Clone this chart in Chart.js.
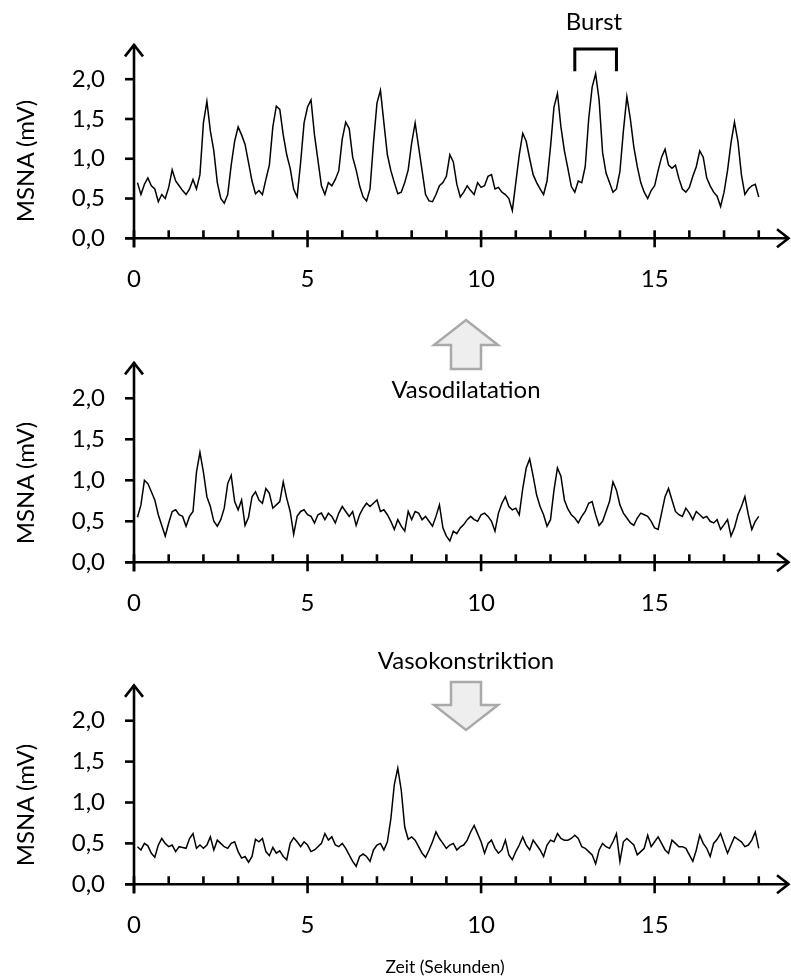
<!DOCTYPE html>
<html>
<head>
<meta charset="utf-8">
<script src="https://cdn.jsdelivr.net/npm/chart.js@4.4.1/dist/chart.umd.min.js"></script>
<style>
html,body{margin:0;padding:0;background:#fff;width:791px;height:980px;overflow:hidden;font-family:Lato,"Open Sans",sans-serif;}
.wrap{position:absolute;left:0;width:791px;}
.lbl{position:absolute;font-size:24px;color:#000;white-space:nowrap;transform:translate(-50%,-50%);line-height:1;}
.rot{transform:translate(-50%,-50%) rotate(-90deg);}
svg{position:absolute;left:0;top:0;}
</style>
</head>
<body>
<div class="wrap" style="top:0;height:300px"><canvas id="c1"></canvas></div>
<div class="wrap" style="top:300px;height:320px"><canvas id="c2"></canvas></div>
<div class="wrap" style="top:620px;height:360px"><canvas id="c3"></canvas></div>

<svg width="791" height="980" viewBox="0 0 791 980">
  <polygon points="466,320 498,345 481,345 481,369 451,369 451,345 434,345" fill="#eeeeee" stroke="#a9a9a9" stroke-width="2.5" stroke-linejoin="miter"/>
  <polygon points="451,682 481,682 481,705 498,705 466,730 434,705 451,705" fill="#eeeeee" stroke="#a9a9a9" stroke-width="2.5" stroke-linejoin="miter"/>
</svg>

<div class="lbl rot" style="left:25px;top:161px">MSNA (mV)</div>
<div class="lbl rot" style="left:25px;top:483px">MSNA (mV)</div>
<div class="lbl rot" style="left:25px;top:805px">MSNA (mV)</div>
<div class="lbl" style="left:594px;top:21px">Burst</div>
<div class="lbl" style="left:466px;top:389px">Vasodilatation</div>
<div class="lbl" style="left:466px;top:660px">Vasokonstriktion</div>
<div class="lbl" style="left:445px;top:967px;font-size:17.5px">Zeit (Sekunden)</div>

<script>
// ---- sampling grid (seconds) ----
const timeStart = 0.1;
const timeStep = 0.1;

// ---- tick definitions ----
const yTickValues = [0, 0.5, 1.0, 1.5, 2.0];
const xLabelTicks = [0, 5, 10, 15];
const xMinorTicks = [1, 2, 3, 4, 6, 7, 8, 9, 11, 12, 13, 14, 16, 17, 18];

// ---- burst bracket (time span in s, level in mV) ----
const burstSpan = [12.7, 13.9];
const burstLevels = [2.10, 2.38];

// ---- MSNA trace, resting (mV), one value per 0.1 s from 0.1 s to 18.0 s ----
const restValues = [
  0.70,0.55,0.68,0.76,0.66,0.62,0.46,0.55,0.50,0.64,
  0.86,0.72,0.66,0.60,0.55,0.62,0.74,0.62,0.80,1.45,
  1.72,1.35,1.10,0.70,0.50,0.44,0.55,0.92,1.22,1.40,
  1.30,1.18,0.95,0.72,0.56,0.60,0.55,0.74,0.92,1.40,
  1.66,1.62,1.30,1.05,0.88,0.62,0.52,0.95,1.45,1.65,
  1.74,1.30,0.98,0.66,0.55,0.70,0.66,0.74,0.85,1.25,
  1.46,1.38,1.02,0.86,0.66,0.52,0.47,0.62,1.20,1.70,
  1.86,1.45,1.05,0.85,0.70,0.56,0.58,0.70,0.86,1.20,
  1.45,1.15,0.85,0.55,0.47,0.46,0.55,0.66,0.70,0.78,
  1.05,0.96,0.68,0.52,0.58,0.66,0.60,0.55,0.70,0.64,
  0.66,0.78,0.80,0.62,0.64,0.58,0.55,0.50,0.35,0.70,
  1.05,1.32,1.22,1.00,0.80,0.70,0.62,0.55,0.72,1.15,
  1.65,1.82,1.40,1.10,0.88,0.65,0.58,0.72,0.70,0.90,
  1.50,1.90,2.07,1.74,1.08,0.82,0.70,0.58,0.62,0.84,
  1.35,1.78,1.50,1.15,0.90,0.70,0.58,0.50,0.60,0.66,
  0.85,1.02,1.12,0.92,0.88,0.92,0.75,0.62,0.58,0.64,
  0.78,0.90,1.10,1.02,0.76,0.66,0.58,0.53,0.40,0.58,
  0.85,1.20,1.46,1.22,0.80,0.55,0.62,0.66,0.68,0.52
];

// ---- MSNA trace during vasodilatation (mV) ----
const dilationValues = [
  0.55,0.70,1.00,0.96,0.86,0.76,0.58,0.45,0.32,0.48,
  0.62,0.64,0.58,0.56,0.44,0.56,0.62,1.10,1.34,1.10,
  0.80,0.68,0.50,0.44,0.52,0.66,0.96,1.06,0.74,0.64,
  0.76,0.45,0.55,0.80,0.86,0.76,0.72,0.90,0.84,0.66,
  0.70,0.74,0.98,0.78,0.62,0.34,0.56,0.62,0.64,0.58,
  0.56,0.48,0.58,0.60,0.52,0.60,0.56,0.48,0.60,0.68,
  0.62,0.56,0.62,0.45,0.58,0.66,0.72,0.68,0.72,0.76,
  0.62,0.64,0.58,0.50,0.40,0.52,0.44,0.38,0.62,0.52,
  0.62,0.60,0.52,0.56,0.50,0.44,0.56,0.70,0.42,0.32,
  0.26,0.38,0.35,0.42,0.46,0.52,0.56,0.52,0.50,0.58,
  0.60,0.56,0.50,0.38,0.60,0.72,0.80,0.68,0.64,0.66,
  0.58,0.90,1.15,1.26,1.05,0.82,0.68,0.58,0.44,0.52,
  0.88,1.15,1.05,0.76,0.65,0.58,0.54,0.48,0.56,0.62,
  0.72,0.74,0.58,0.45,0.50,0.62,0.74,0.98,0.88,0.70,
  0.60,0.54,0.48,0.45,0.54,0.60,0.58,0.56,0.50,0.42,
  0.40,0.60,0.80,0.90,0.76,0.62,0.58,0.56,0.66,0.60,
  0.52,0.62,0.58,0.54,0.56,0.50,0.48,0.52,0.40,0.46,
  0.52,0.32,0.42,0.58,0.68,0.80,0.58,0.40,0.50,0.56
];

// ---- MSNA trace during vasoconstriction (mV) ----
const constrictionValues = [
  0.46,0.42,0.50,0.47,0.38,0.33,0.48,0.56,0.50,0.46,
  0.48,0.40,0.46,0.45,0.44,0.56,0.62,0.44,0.48,0.44,
  0.48,0.58,0.42,0.54,0.50,0.46,0.44,0.50,0.52,0.40,
  0.32,0.34,0.27,0.34,0.55,0.52,0.56,0.40,0.35,0.45,
  0.38,0.41,0.34,0.30,0.50,0.57,0.52,0.46,0.52,0.48,
  0.40,0.42,0.46,0.50,0.62,0.54,0.58,0.48,0.46,0.50,
  0.44,0.36,0.28,0.22,0.34,0.37,0.34,0.28,0.42,0.48,
  0.50,0.42,0.52,0.80,1.22,1.42,1.15,0.70,0.55,0.58,
  0.54,0.46,0.38,0.33,0.42,0.52,0.64,0.56,0.50,0.44,
  0.48,0.50,0.42,0.46,0.48,0.54,0.64,0.72,0.62,0.52,
  0.38,0.50,0.54,0.44,0.38,0.42,0.54,0.36,0.30,0.40,
  0.48,0.58,0.48,0.42,0.54,0.48,0.42,0.34,0.48,0.54,
  0.52,0.62,0.56,0.54,0.54,0.56,0.60,0.56,0.46,0.44,
  0.40,0.36,0.25,0.42,0.50,0.46,0.44,0.52,0.62,0.28,
  0.52,0.56,0.52,0.48,0.36,0.40,0.44,0.60,0.46,0.52,
  0.58,0.50,0.42,0.38,0.54,0.50,0.46,0.46,0.44,0.36,
  0.28,0.42,0.60,0.50,0.44,0.34,0.50,0.55,0.62,0.50,
  0.38,0.48,0.58,0.55,0.52,0.46,0.48,0.54,0.64,0.44
];

const axisDeco = {
  id: 'axisDeco',
  afterDraw(chart, args, opts) {
    const {ctx, chartArea, scales} = chart;
    const xs = scales.x, ys = scales.y;
    const x0 = xs.getPixelForValue(0), y0 = ys.getPixelForValue(0);
    const line = (a, b, c, d) => { ctx.beginPath(); ctx.moveTo(a, b); ctx.lineTo(c, d); ctx.stroke(); };
    ctx.save();
    ctx.strokeStyle = '#000';
    ctx.lineWidth = 2.6;
    ctx.lineCap = 'butt';
    ctx.lineJoin = 'miter';
    // y axis + arrow
    line(x0, y0 + 9, x0, chartArea.top + 1);
    ctx.beginPath(); ctx.moveTo(x0 - 9, chartArea.top + 13); ctx.lineTo(x0, chartArea.top + 1.5); ctx.lineTo(x0 + 9, chartArea.top + 13); ctx.stroke();
    // x axis + arrow
    line(x0 - 9, y0, chartArea.right - 1, y0);
    ctx.beginPath(); ctx.moveTo(chartArea.right - 13, y0 - 9); ctx.lineTo(chartArea.right - 1.5, y0); ctx.lineTo(chartArea.right - 13, y0 + 9); ctx.stroke();
    // y ticks (outside)
    yTickValues.forEach(v => { const py = ys.getPixelForValue(v); line(x0 - 9, py, x0, py); });
    // x minor ticks (inside)
    xMinorTicks.forEach(v => { const px = xs.getPixelForValue(v); line(px, y0 - 8, px, y0); });
    // x major ticks (cross)
    xLabelTicks.forEach(v => { const px = xs.getPixelForValue(v); line(px, y0 - 8, px, y0 + 9); });
    // burst bracket
    if (opts && opts.bracket) {
      const xa = xs.getPixelForValue(burstSpan[0]), xb = xs.getPixelForValue(burstSpan[1]);
      const yl = ys.getPixelForValue(burstLevels[0]), yh = ys.getPixelForValue(burstLevels[1]);
      ctx.lineWidth = 3;
      ctx.beginPath(); ctx.moveTo(xa, yl); ctx.lineTo(xa, yh); ctx.lineTo(xb, yh); ctx.lineTo(xb, yl); ctx.stroke();
    }
    ctx.restore();
  }
};

const tickFont = { family: 'Lato, "Open Sans", sans-serif', size: 24 };

function makeChart(id, values, padTop, xAxisHeight, bracket) {
  const pts = values.map((v, i) => ({ x: Math.round((timeStart + i * timeStep) * 10) / 10, y: v }));
  return new Chart(document.getElementById(id), {
    type: 'line',
    data: { datasets: [{ data: pts, borderColor: '#000', borderWidth: 1.5, pointRadius: 0, tension: 0, fill: false }] },
    options: {
      responsive: true,
      maintainAspectRatio: false,
      animation: false,
      events: [],
      layout: { padding: { top: padTop, left: 0, right: 1, bottom: 0 } },
      plugins: { legend: { display: false }, tooltip: { enabled: false }, axisDeco: { bracket: bracket } },
      scales: {
        x: {
          type: 'linear', min: 0, max: 18.9,
          afterBuildTicks: s => { s.ticks = xLabelTicks.map(v => ({ value: v })); },
          afterFit: s => { s.height = xAxisHeight; },
          ticks: { autoSkip: false, maxRotation: 0, padding: 27, color: '#000', font: tickFont, callback: v => String(v) },
          grid: { display: false, drawTicks: false },
          border: { display: false }
        },
        y: {
          type: 'linear', min: 0, max: 2.45,
          afterBuildTicks: s => { s.ticks = yTickValues.map(v => ({ value: v })); },
          afterFit: s => { s.width = 134; },
          ticks: { padding: 29, color: '#000', font: tickFont, callback: v => Number(v).toFixed(1).replace('.', ',') },
          grid: { display: false, drawTicks: false },
          border: { display: false }
        }
      }
    },
    plugins: [axisDeco]
  });
}

makeChart('c1', restValues, 39.1, 61.7, true);
makeChart('c2', dilationValues, 61.4, 57.7, false);
makeChart('c3', constrictionValues, 63.9, 95.7, false);
</script>
</body>
</html>
